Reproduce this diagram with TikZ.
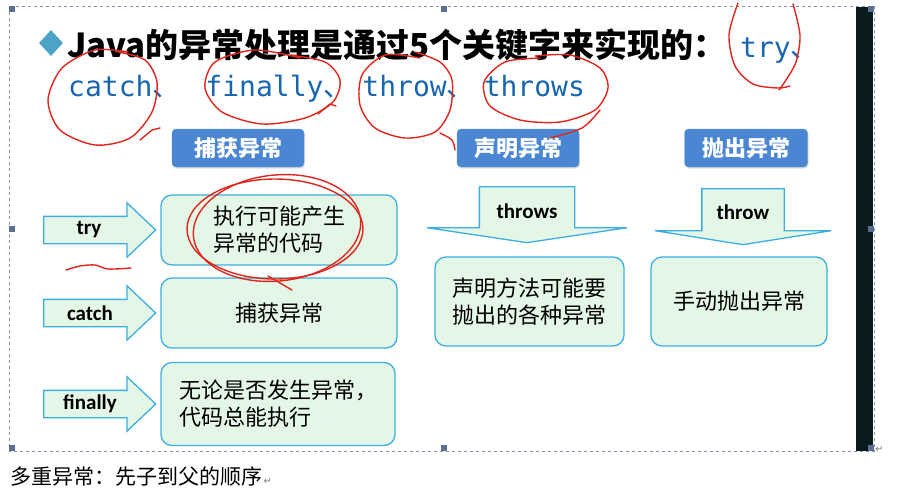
\documentclass[tikz,border=0pt]{standalone}
\usepackage{fontspec}
\setmainfont{Carlito}
\newfontfamily\cjk{Noto Sans CJK SC}
\newfontfamily\kwmono{DejaVu Sans Mono}
\newfontfamily\symfont{DejaVu Sans}
\usetikzlibrary{arrows.meta,positioning,shapes.geometric,shapes.arrows,shadows}
\definecolor{HdrBlue}{HTML}{4A86D2}
\definecolor{SoftGreen}{HTML}{E4F6E6}
\definecolor{EdgeBlue}{HTML}{3DAEE2}
\definecolor{KeyBlue}{HTML}{1866B0}
\definecolor{Bullet}{HTML}{4BA3C8}
\definecolor{InkRed}{HTML}{E0261C}
\definecolor{Strip}{HTML}{0A1B1E}
\definecolor{Frame}{HTML}{8193AE}
\definecolor{Handle}{HTML}{5B6F93}
\tikzset{
 hdr/.style={fill=HdrBlue, draw=HdrBlue!85!white, rounded corners=4pt, text=white, font=\cjk\bfseries\fontsize{22}{26}\selectfont, drop shadow={opacity=0.25, shadow xshift=1pt, shadow yshift=-1.5pt}},
 greenbox/.style={draw=EdgeBlue, line width=1.3pt, fill=SoftGreen, rounded corners=11pt, align=left, font=\cjk\fontsize{22}{27}\selectfont},
 rightarr/.style={single arrow, draw=EdgeBlue, line width=1.3pt, fill=SoftGreen, inner xsep=0pt, inner ysep=13pt, minimum height=112, single arrow head extend=13.5, single arrow tip angle=87},
 downarr/.style={single arrow, rotate=-90, draw=EdgeBlue, line width=1.3pt, fill=SoftGreen, inner xsep=0pt, minimum height=56},
 kwlabel/.style={font=\bfseries\fontsize{21}{24}\selectfont},
 keyword/.style={anchor=base west, inner sep=0pt, text=KeyBlue, font=\kwmono\fontsize{28}{32}\selectfont},
 ink/.style={draw=InkRed, line width=1.4pt, line cap=round, line join=round}
}

\begin{document}
\begin{tikzpicture}[x=1pt,y=-1pt]
\useasboundingbox (0,0) rectangle (905,488);
% slide frame
\fill[Strip] (856,7) rectangle (873,451);
\draw[Frame, dashed] (9,6) rectangle (874,451);
\foreach \hx/\hy in {9/6,441/6,868/6,9/226,868/226,9/445,441/445,868/445}
  \fill[Handle] (\hx,\hy) rectangle ++(6,6);
% title
\node[diamond, fill=Bullet, minimum width=24, minimum height=26, inner sep=0pt] (bullet) at (51,43) {};
\node[anchor=base west, inner sep=0pt, font=\cjk\bfseries\fontsize{33}{40}\selectfont] (title) at (67,57) {Java的异常处理是通过5个关键字来实现的：};
\node[keyword] (kwtry) at (740,57) {try{\cjk 、}};
\node[keyword] (kwrest) at (68,96) {catch{\cjk 、}\hspace{25pt}finally{\cjk 、}\hspace{11pt}throw{\cjk 、}\hspace{9pt}throws};
% headers
\node[hdr, minimum width=132, minimum height=38] (catchhdr) at (238,148) {捕获异常};
\node[hdr, minimum width=122, minimum height=38] (declhdr) at (518,148) {声明异常};
\node[hdr, minimum width=123, minimum height=38] (throwhdr) at (746,148) {抛出异常};
% left column
\node[greenbox, minimum width=236, minimum height=70] (trybox) at (279,230) {执行可能产生\\异常的代码};
\node[greenbox, minimum width=236, minimum height=70] (catchbox) at (279,313) {捕获异常};
\node[greenbox, minimum width=234, minimum height=83] (finbox) at (278,404) {无论是否发生异常，\\代码总能执行};
\node[rightarr, anchor=tail] (tryarr) at (43,230) {};
\node[rightarr, anchor=tail] (catcharr) at (43,313) {};
\node[rightarr, anchor=tail] (finarr) at (43,404) {};
\node[kwlabel] (trylbl) at (89,230) {try};
\node[kwlabel] (catchlbl) at (90,313) {catch};
\node[kwlabel] (finlbl) at (90,404) {finally};
% right columns
\node[downarr, anchor=tail, inner ysep=47pt, single arrow head extend=52.5, single arrow tip angle=163] (throwsarr) at (527,186) {};
\node[kwlabel] (throwslbl) at (527,211) {throws};
\node[downarr, anchor=tail, inner ysep=40.5pt, single arrow head extend=47, single arrow tip angle=162] (throwarr) at (743,188) {};
\node[kwlabel] (throwlbl) at (743,212) {throw};
\node[greenbox, minimum width=189, minimum height=89] (declbox) at (529.5,301.5) {声明方法可能要\\抛出的各种异常};
\node[greenbox, minimum width=176, minimum height=89] (throwbox) at (739,301.5) {手动抛出异常};
% red pen marks
\draw[ink] plot[smooth] coordinates {(738,3) (729,35) (735,66) (753,84) (778,88) (790,86)};
\draw[ink] plot[smooth] coordinates {(793,4) (800,35) (796,62) (786,80) (779,90)};
\draw[ink] plot[smooth] coordinates {(128,52) (95,50) (62,68) (48,100) (60,130) (95,145) (130,138) (152,112) (157,82) (145,60) (118,52)};
\draw[ink] (140,140) -- (152,130) -- (160,128);
\draw[ink] plot[smooth] coordinates {(300,58) (255,50) (215,62) (205,88) (222,112) (262,124) (305,118) (333,102) (340,80) (325,62) (290,55)};
\draw[ink] (318,114) -- (330,104) -- (336,106);
\draw[ink] plot[smooth] coordinates {(420,58) (385,55) (362,75) (360,105) (375,128) (405,138) (435,132) (450,110) (452,80) (440,62) (415,52)};
\draw[ink] plot[smooth] coordinates {(440,133) (452,140) (455,150)};
\draw[ink] plot[smooth] coordinates {(540,58) (505,62) (484,82) (490,106) (520,120) (560,122) (595,110) (608,88) (600,68) (570,55) (535,56)};
\draw[ink] plot[smooth] coordinates {(600,110) (582,128) (550,138)};
\draw[ink] (275,229) ellipse [x radius=88, y radius=50];
\draw[ink, rotate around={6:(277,228)}] (277,228) ellipse [x radius=84, y radius=53];
\draw[ink] (268,276) -- (292,290);
\draw[ink] plot[smooth] coordinates {(66,270) (80,266) (95,265) (108,269) (131,268)};
% note below the slide
\node[anchor=base west, inner sep=0pt, font=\cjk\fontsize{21}{24}\selectfont] (note) at (10,484) {多重异常：先子到父的顺序};
\node[anchor=base west, inner sep=1pt, text=gray, font=\symfont\fontsize{10}{12}\selectfont] (notemark) at (note.base east) {↵};
\node[anchor=base west, inner sep=1pt, text=gray, font=\symfont\fontsize{10}{12}\selectfont] (framemark) at (874,452) {↵};
\end{tikzpicture}
\end{document}
